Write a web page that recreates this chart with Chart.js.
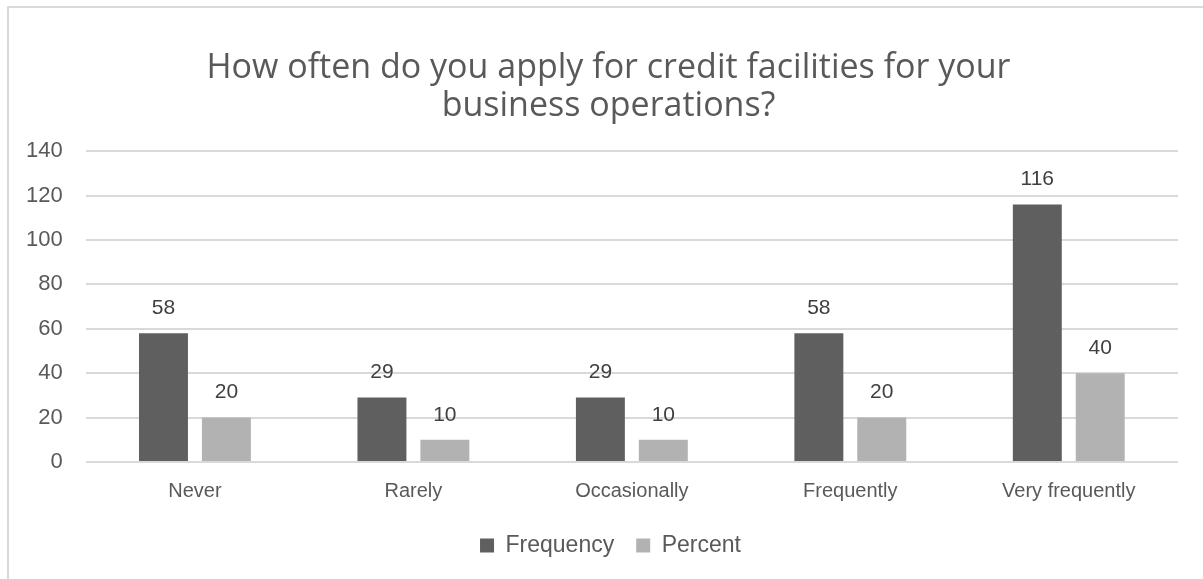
<!DOCTYPE html>
<html>
<head>
<meta charset="utf-8">
<script src="https://cdn.jsdelivr.net/npm/chart.js@4.4.1/dist/chart.umd.min.js"></script>
<style>
  html, body { margin: 0; padding: 0; background: #fff; }
  #wrap { position: relative; width: 1203px; height: 579px; }
  #frame {
    position: absolute; left: 7px; top: 6px; right: -10px; bottom: -10px;
    border-left: 2px solid #d9d9d9; border-top: 2px solid #d9d9d9;
  }
  canvas { position: absolute; left: 0; top: 0; }
</style>
</head>
<body>
<div id="wrap">
  <div id="frame"></div>
  <canvas id="chart" width="1203" height="579"></canvas>
</div>
<script>
const categories = ['Never', 'Rarely', 'Occasionally', 'Frequently', 'Very frequently'];
const frequency = [58, 29, 29, 58, 116];
const percent = [20, 10, 10, 20, 40];
const yTicks = [0, 20, 40, 60, 80, 100, 120, 140];

const textColor = '#595959';
const sans = '"Liberation Sans", Arial, sans-serif';

// draw each bar's value just above it
const valueLabels = {
  id: 'valueLabels',
  afterDatasetsDraw(chart) {
    const ctx = chart.ctx;
    ctx.save();
    ctx.font = '21px ' + sans;
    ctx.fillStyle = '#404040';
    ctx.textAlign = 'center';
    ctx.textBaseline = 'middle';
    chart.data.datasets.forEach((ds, i) => {
      chart.getDatasetMeta(i).data.forEach((bar, j) => {
        ctx.fillText(ds.data[j], bar.x, bar.y - 25);
      });
    });
    ctx.restore();
  }
};

// title and legend are centred on the whole frame, not the plot
const centreOnFrame = {
  id: 'centreOnFrame',
  afterLayout(chart) {
    const shift = (box, dx) => {
      if (!box) return;
      box.left += dx;
      box.right += dx;
    };
    shift(chart.titleBlock, 18);
    shift(chart.legend, 20);
  }
};

new Chart(document.getElementById('chart'), {
  type: 'bar',
  data: {
    labels: categories,
    datasets: [
      { label: 'Frequency', data: frequency, backgroundColor: '#5f5f5f' },
      { label: 'Percent', data: percent, backgroundColor: '#b2b2b2' }
    ]
  },
  options: {
    responsive: false,
    animation: false,
    layout: { padding: { left: 3, right: 25, top: 20, bottom: 12 } },
    datasets: { bar: { categoryPercentage: 0.576, barPercentage: 0.778 } },
    plugins: {
      title: {
        display: true,
        text: ['How often do you apply for credit facilities for your', 'business operations?'],
        color: textColor,
        font: { family: '"Open Sans", sans-serif', size: 34, weight: 'normal', lineHeight: 1.12 },
        padding: { top: 29, bottom: 26 }
      },
      legend: {
        position: 'bottom',
        labels: {
          color: textColor,
          boxWidth: 14,
          boxHeight: 14,
          padding: 22,
          font: { family: sans, size: 23 }
        }
      },
      tooltip: { enabled: false }
    },
    scales: {
      x: {
        grid: { display: false },
        border: { display: false },
        ticks: { color: textColor, padding: 9, font: { family: sans, size: 20 } }
      },
      y: {
        min: 0,
        max: 140,
        afterBuildTicks(axis) { axis.ticks = yTicks.map(v => ({ value: v })); },
        grid: { color: '#d9d9d9', lineWidth: 2, drawTicks: false },
        border: { display: false },
        ticks: { color: textColor, padding: 23, font: { family: sans, size: 22 } }
      }
    }
  },
  plugins: [valueLabels, centreOnFrame]
});
</script>
</body>
</html>
